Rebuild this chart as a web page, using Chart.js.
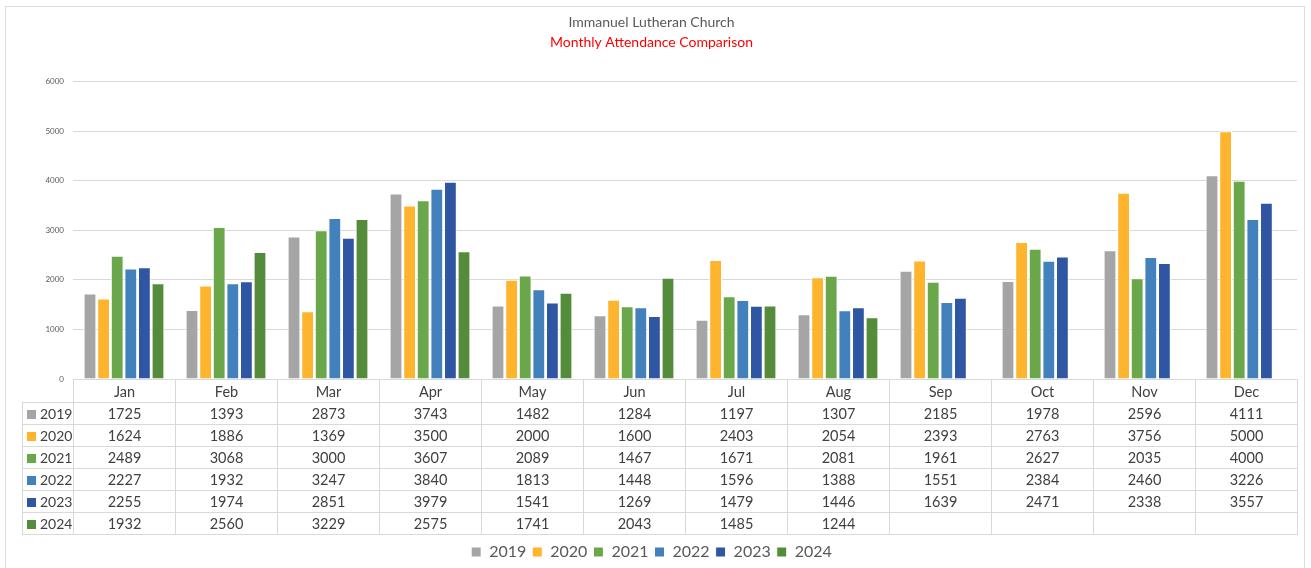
<!DOCTYPE html>
<html>
<head>
<meta charset="utf-8">
<script src="https://cdn.jsdelivr.net/npm/chart.js@4.4.1/dist/chart.umd.min.js"></script>
<style>
  html, body { margin: 0; padding: 0; background: #fff; }
  body { width: 1311px; height: 568px; overflow: hidden; position: relative; font-family: Lato, "Liberation Sans", sans-serif; }
  #frame { position: absolute; left: 5px; top: 6px; width: 1300px; height: 600px; border: 1px solid #dcdcdc; box-sizing: border-box; }
  #wrap { position: absolute; left: 6px; top: 7px; width: 1299px; height: 563px; }
  #data-table { position: absolute; border-collapse: collapse; table-layout: fixed; font-size: 14.5px; color: #404040; }
  #data-table td { border: 1px solid #d9d9d9; padding: 0; text-align: center; white-space: nowrap; overflow: hidden; }
  #data-table tr { height: 22px; }
  #data-table td.key { text-align: left; padding-left: 4px; }
  #data-table td.blank { border: none; }
  .swatch { display: inline-block; width: 9px; height: 9px; margin-right: 4px; vertical-align: 0px; }
</style>
</head>
<body>
<div id="frame"></div>
<div id="wrap"><canvas id="chart"></canvas></div>
<script>
// chart data
const months = ['Jan', 'Feb', 'Mar', 'Apr', 'May', 'Jun', 'Jul', 'Aug', 'Sep', 'Oct', 'Nov', 'Dec'];
const years = ['2019', '2020', '2021', '2022', '2023', '2024'];
const att2019 = [1725, 1393, 2873, 3743, 1482, 1284, 1197, 1307, 2185, 1978, 2596, 4111];
const att2020 = [1624, 1886, 1369, 3500, 2000, 1600, 2403, 2054, 2393, 2763, 3756, 5000];
const att2021 = [2489, 3068, 3000, 3607, 2089, 1467, 1671, 2081, 1961, 2627, 2035, 4000];
const att2022 = [2227, 1932, 3247, 3840, 1813, 1448, 1596, 1388, 1551, 2384, 2460, 3226];
const att2023 = [2255, 1974, 2851, 3979, 1541, 1269, 1479, 1446, 1639, 2471, 2338, 3557];
const att2024 = [1932, 2560, 3229, 2575, 1741, 2043, 1485, 1244, null, null, null, null];
const yTicks = [0, 1000, 2000, 3000, 4000, 5000, 6000];

const colors = ['#A5A5A5', '#FFB42E', '#69A74A', '#4281BC', '#2E56A2', '#548C3C'];
const series = [att2019, att2020, att2021, att2022, att2023, att2024];

const datasets = years.map((y, i) => ({
  label: y,
  data: series[i],
  backgroundColor: colors[i],
  borderColor: '#ffffff',
  borderWidth: 1,
  categoryPercentage: 0.8,
  barPercentage: 0.94
}));

const chart = new Chart(document.getElementById('chart'), {
  type: 'bar',
  data: { labels: months, datasets: datasets },
  options: {
    responsive: true,
    maintainAspectRatio: false,
    animation: false,
    layout: { padding: { right: 8, left: 0, top: 0, bottom: 0 } },
    plugins: {
      title: {
        display: true,
        text: 'Immanuel Lutheran Church',
        color: '#595959',
        font: { family: 'Lato, sans-serif', size: 14, weight: 'normal' },
        padding: { top: 7, bottom: 2 }
      },
      subtitle: {
        display: true,
        text: 'Monthly Attendance Comparison',
        color: '#FF0000',
        font: { family: 'Lato, sans-serif', size: 14, weight: 'normal' },
        padding: { top: 1, bottom: 31 }
      },
      legend: {
        position: 'bottom',
        labels: {
          boxWidth: 10,
          boxHeight: 10,
          padding: 6,
          color: '#595959',
          font: { family: 'Lato, sans-serif', size: 16 }
        }
      },
      tooltip: { enabled: false }
    },
    scales: {
      x: {
        ticks: { display: false },
        grid: { display: false },
        border: { display: false },
        afterFit: s => { s.height = 159; }
      },
      y: {
        min: 0,
        max: 6000,
        afterBuildTicks: s => { s.ticks = yTicks.map(v => ({ value: v })); },
        ticks: {
          color: '#595959',
          font: { family: 'Lato, sans-serif', size: 8 },
          padding: 9,
          callback: v => String(v)
        },
        grid: { color: '#d9d9d9', drawTicks: false },
        border: { display: false },
        afterFit: s => { s.width = 67; }
      }
    }
  }
});

// data table under the plot, aligned with the category columns
function buildTable() {
  const area = chart.chartArea;
  const wrap = document.getElementById('wrap');
  const offX = wrap.offsetLeft, offY = wrap.offsetTop;
  const colW = (area.right - area.left) / months.length;
  const keyW = 51;
  const table = document.createElement('table');
  table.id = 'data-table';
  table.style.left = (offX + area.left - keyW) + 'px';
  table.style.top = (offY + area.bottom) + 'px';
  table.style.width = (keyW + colW * months.length) + 'px';

  const cg = document.createElement('colgroup');
  [keyW].concat(months.map(() => colW)).forEach(w => {
    const c = document.createElement('col');
    c.style.width = w + 'px';
    cg.appendChild(c);
  });
  table.appendChild(cg);

  const head = document.createElement('tr');
  head.style.height = '23px';
  const blank = document.createElement('td');
  blank.className = 'blank';
  head.appendChild(blank);
  months.forEach(m => {
    const td = document.createElement('td');
    td.textContent = m;
    head.appendChild(td);
  });
  table.appendChild(head);

  years.forEach((y, i) => {
    const tr = document.createElement('tr');
    const key = document.createElement('td');
    key.className = 'key';
    key.style.fontSize = '14px';
    const sw = document.createElement('span');
    sw.className = 'swatch';
    sw.style.background = colors[i];
    key.appendChild(sw);
    key.appendChild(document.createTextNode(y));
    tr.appendChild(key);
    series[i].forEach(v => {
      const td = document.createElement('td');
      td.textContent = v == null ? '' : v;
      tr.appendChild(td);
    });
    table.appendChild(tr);
  });
  document.body.appendChild(table);
}
buildTable();
</script>
</body>
</html>
